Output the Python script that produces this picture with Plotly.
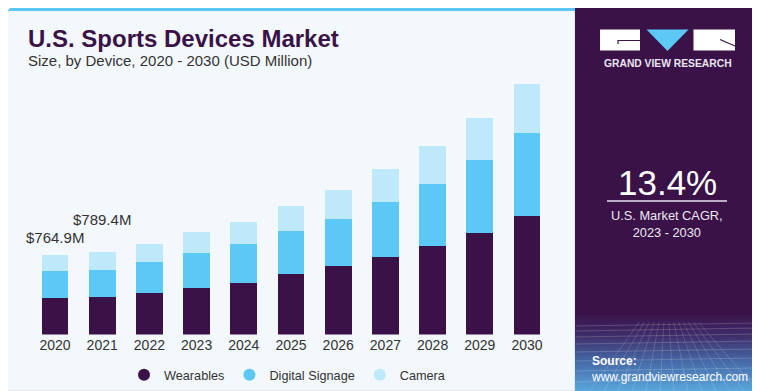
import plotly.graph_objects as go

# The page body has an 8px default margin, so the figure is drawn 8px in from the
# top-left corner of the window; coordinates below are in window pixels.
OFF = 8
W, H = 760 - OFF, 391 - OFF

years = ["2020", "2021", "2022", "2023", "2024", "2025", "2026", "2027", "2028", "2029", "2030"]
wearables = [351, 358, 397, 451, 499, 584, 655, 747, 856, 981, 1144]
digital_signage = [258, 266, 301, 333, 372, 407, 457, 525, 591, 694, 793]
camera = [156, 165, 173, 202, 214, 243, 278, 317, 365, 410, 477]
series_names = ["Wearables", "Digital Signage", "Camera"]
series_colors = ["#3a1248", "#5bc8f5", "#bde9fa"]
value_labels = {"2020": "$764.9M", "2021": "$789.4M"}


def px(x):
    return (x - OFF) / W


def py(y):
    return 1 - (y - OFF) / H


fig = go.Figure()
for name, vals, col in zip(series_names, [wearables, digital_signage, camera], series_colors):
    fig.add_trace(go.Bar(x=years, y=vals, name=name, marker=dict(color=col, line=dict(width=0)),
                         showlegend=False))
for name, col in zip(series_names, series_colors):
    fig.add_trace(go.Scatter(x=[years[0]], y=[None], mode="markers", name=name,
                             marker=dict(symbol="circle", size=12, color=col)))

totals = [a + b + c for a, b, c in zip(wearables, digital_signage, camera)]

shapes = []
# left panel
shapes.append(dict(type="path", xref="paper", yref="paper",
                   path=f"M {px(7.5)},{py(391)} L {px(7.5)},{py(14)} Q {px(7.5)},{py(7)} {px(14)},{py(7)} L {px(575)},{py(7)} L {px(575)},{py(391)} Z",
                   fillcolor="#f3f8fc", line=dict(color="#d5dae0", width=1), layer="below"))
shapes.append(dict(type="path", xref="paper", yref="paper",
                   path=f"M {px(8)},{py(12)} L {px(8)},{py(14)} Q {px(8)},{py(7)} {px(14)},{py(7)} L {px(575)},{py(7)} L {px(575)},{py(11)} L {px(8)},{py(11)} Z",
                   fillcolor="#5cc6f2", line=dict(width=0), layer="below"))
# right panel
shapes.append(dict(type="path", xref="paper", yref="paper",
                   path=f"M {px(575)},{py(391)} L {px(575)},{py(7)} L {px(748)},{py(7)} Q {px(757)},{py(7)} {px(757)},{py(16)} L {px(757)},{py(391)} Z",
                   fillcolor="#3a1248", line=dict(width=0), layer="below"))


def lerp(c1, c2, t):
    a = [int(c1[i:i + 2], 16) for i in (1, 3, 5)]
    b = [int(c2[i:i + 2], 16) for i in (1, 3, 5)]
    return "#" + "".join(f"{int(round(a[k] + (b[k] - a[k]) * t)):02x}" for k in range(3))


stops = [(312, "#3a1248"), (335, "#3f2e6a"), (360, "#4668a6"), (391, "#5aa8dd")]
y = 312
while y < 391:
    for (y0, c0), (y1, c1) in zip(stops[:-1], stops[1:]):
        if y0 <= y < y1:
            col = lerp(c0, c1, (y - y0) / (y1 - y0))
    shapes.append(dict(type="rect", xref="paper", yref="paper", x0=px(575), x1=px(757),
                       y0=py(min(y + 2.5, 391)), y1=py(y), fillcolor=col, line=dict(width=0), layer="below"))
    y += 2
# faint perspective grid
for gy in [326, 331, 337, 344, 352, 361, 371, 382]:
    shapes.append(dict(type="line", xref="paper", yref="paper", x0=px(576), x1=px(757), y0=py(gy), y1=py(gy - 3),
                       line=dict(color="rgba(255,255,255,0.18)", width=1), layer="below"))
for gx in range(590, 760, 14):
    shapes.append(dict(type="line", xref="paper", yref="paper", x0=px(666 + (gx - 666) * 0.35), x1=px(gx),
                       y0=py(322), y1=py(391), line=dict(color="rgba(255,255,255,0.15)", width=1), layer="below"))
# logo
shapes.append(dict(type="rect", xref="paper", yref="paper", x0=px(600), x1=px(640), y0=py(50.5), y1=py(29.5),
                   fillcolor="white", line=dict(width=0)))
shapes.append(dict(type="path", xref="paper", yref="paper",
                   path=f"M {px(646.5)},{py(29.5)} L {px(688.5)},{py(29.5)} L {px(667.5)},{py(51)} Z",
                   fillcolor="#5bc8f5", line=dict(width=0)))
shapes.append(dict(type="rect", xref="paper", yref="paper", x0=px(693.5), x1=px(735), y0=py(50.5), y1=py(29.5),
                   fillcolor="white", line=dict(width=0)))
shapes.append(dict(type="path", xref="paper", yref="paper",
                   path=f"M {px(640)},{py(40.5)} L {px(618)},{py(40.5)} L {px(618)},{py(44)}",
                   line=dict(color="#3a1248", width=1.2)))
shapes.append(dict(type="line", xref="paper", yref="paper", x0=px(720), y0=py(39.5), x1=px(735), y1=py(46),
                   line=dict(color="#3a1248", width=1.2)))
# CAGR separator line
shapes.append(dict(type="line", xref="paper", yref="paper", x0=px(607), x1=px(727), y0=py(201), y1=py(201),
                   line=dict(color="#e6e0ee", width=1.5)))

ann = []
ann.append(dict(text="<b>U.S. Sports Devices Market</b>", xref="paper", yref="paper", x=px(26), y=py(38.5),
                xanchor="left", yanchor="middle", showarrow=False,
                font=dict(family="Liberation Sans, Arial", size=24, color="#3a1248")))
ann.append(dict(text="Size, by Device, 2020 - 2030 (USD Million)", xref="paper", yref="paper", x=px(26), y=py(60),
                xanchor="left", yanchor="middle", showarrow=False,
                font=dict(family="Liberation Sans, Arial", size=15, color="#333333")))
shifts = {"2020": 17, "2021": 33}
for yr, lab in value_labels.items():
    i = years.index(yr)
    ann.append(dict(text=lab, x=i, y=totals[i], xref="x", yref="y", yshift=shifts[yr],
                    xanchor="center", yanchor="middle", showarrow=False,
                    font=dict(family="Liberation Sans, Arial", size=15, color="#333333")))
ann.append(dict(text="<b>GRAND VIEW RESEARCH</b>", xref="paper", yref="paper", x=px(667.5), y=py(63.5),
                xanchor="center", yanchor="middle", showarrow=False,
                font=dict(family="Liberation Sans, Arial", size=10.3, color="#e8e4f0")))
ann.append(dict(text="13.4%", xref="paper", yref="paper", x=px(667), y=py(182),
                xanchor="center", yanchor="middle", showarrow=False,
                font=dict(family="Liberation Sans, Arial", size=35, color="white")))
ann.append(dict(text="U.S. Market CAGR,<br>2023 - 2030", xref="paper", yref="paper", x=px(667), y=py(223.5),
                xanchor="center", yanchor="middle", showarrow=False, align="center",
                font=dict(family="Liberation Sans, Arial", size=12.8, color="#ece8f2")))
ann.append(dict(text="<b>Source:</b><br>www.grandviewresearch.com", xref="paper", yref="paper", x=px(589), y=py(369),
                xanchor="left", yanchor="middle", showarrow=False, align="left",
                font=dict(family="Liberation Sans, Arial", size=12, color="white")))

x_left, x_right = 31.4, 550.6
base_px, top_px = 334.5, 60
m_per_px = 9.62

fig.update_layout(
    width=W, height=H, margin=dict(l=0, r=0, t=0, b=0, autoexpand=False),
    paper_bgcolor="white", plot_bgcolor="rgba(0,0,0,0)",
    barmode="stack", bargap=0.43,
    font=dict(family="Liberation Sans, Arial", color="#333333"),
    xaxis=dict(type="category", domain=[px(x_left), px(x_right)], range=[-0.5, len(years) - 0.5],
               showgrid=False, zeroline=False, showline=False,
               ticks="", tickfont=dict(size=14, color="#333333"), fixedrange=True),
    yaxis=dict(domain=[py(base_px), py(top_px)], range=[0, (base_px - top_px) * m_per_px],
               visible=False, fixedrange=True),
    legend=dict(orientation="h", x=px(124), y=py(375), xanchor="left", yanchor="middle",
                traceorder="normal",
                font=dict(size=12.7, color="#333333"), bgcolor="rgba(0,0,0,0)", itemclick=False),
    shapes=shapes, annotations=ann,
    showlegend=True,
)

fig.write_html("out.html")
